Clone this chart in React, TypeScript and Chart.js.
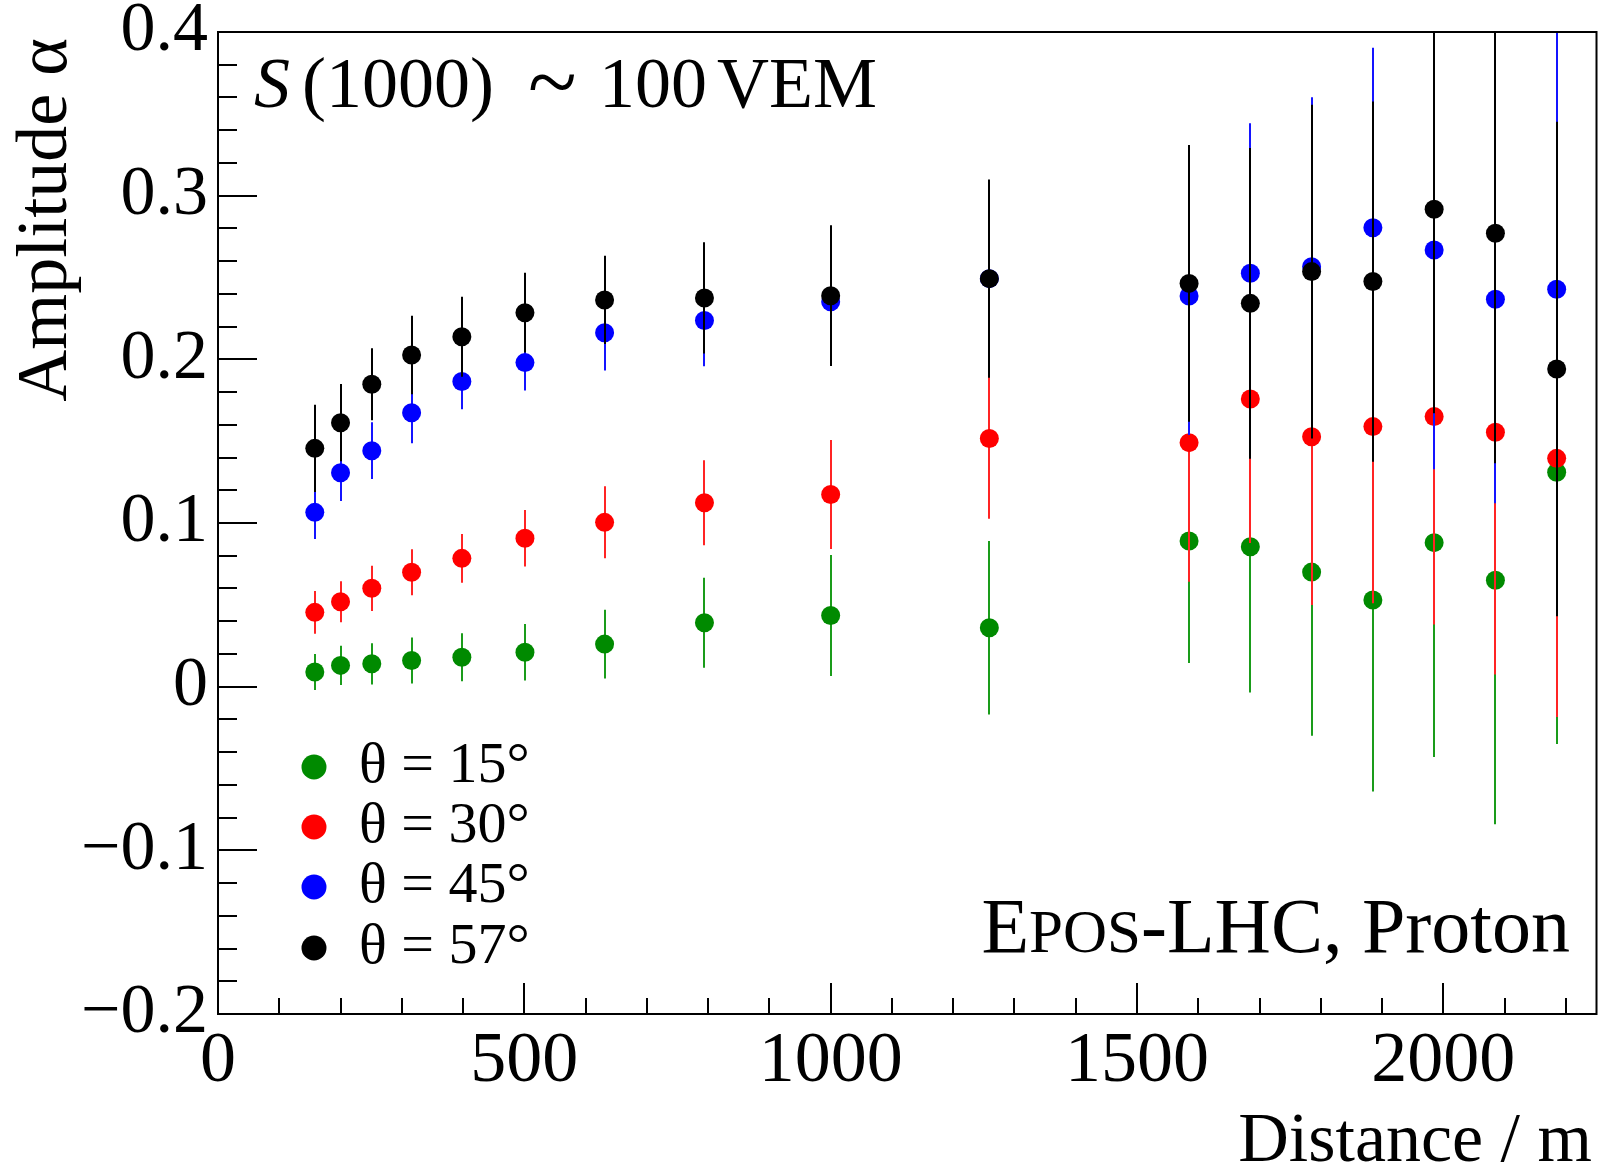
import React, { useEffect, useRef } from "react";
import { Chart, registerables } from "chart.js";

Chart.register(...registerables);

// ---------------- data ----------------
const distances = [158, 200, 251, 316, 398, 501, 631, 794, 1000, 1259, 1585, 1685, 1785, 1885, 1985, 2085, 2185];

const alpha15 = [0.009, 0.013, 0.014, 0.016, 0.018, 0.021, 0.026, 0.039, 0.0435, 0.036, 0.089, 0.0855, 0.07, 0.053, 0.088, 0.065, 0.131];
const alpha15Err = [0.011, 0.012, 0.0126, 0.014, 0.0147, 0.0173, 0.021, 0.0275, 0.037, 0.053, 0.0745, 0.089, 0.1, 0.117, 0.131, 0.149, 0.166];

const alpha30 = [0.0454, 0.0519, 0.0601, 0.0699, 0.0784, 0.0907, 0.1004, 0.1124, 0.1174, 0.1516, 0.1491, 0.1758, 0.1527, 0.1589, 0.165, 0.1554, 0.1395];
const alpha30Err = [0.013, 0.0125, 0.0138, 0.014, 0.0149, 0.0173, 0.022, 0.026, 0.0333, 0.049, 0.085, 0.088, 0.1028, 0.108, 0.127, 0.148, 0.158];

const alpha45 = [0.1065, 0.1307, 0.1442, 0.1674, 0.1865, 0.198, 0.2162, 0.2237, 0.2352, 0.2493, 0.2387, 0.2526, 0.2566, 0.2804, 0.2668, 0.2367, 0.2428];
const alpha45Err = [0.0163, 0.0173, 0.0173, 0.0187, 0.017, 0.017, 0.023, 0.028, 0.035, 0.05, 0.085, 0.0916, 0.1035, 0.11, 0.134, 0.1247, 0.17];

const alpha57 = [0.1456, 0.1613, 0.1848, 0.2027, 0.2138, 0.2285, 0.2363, 0.2375, 0.2389, 0.2493, 0.2464, 0.2342, 0.2536, 0.2475, 0.2917, 0.277, 0.1941];
const alpha57Err = [0.0266, 0.0236, 0.022, 0.024, 0.0245, 0.0244, 0.027, 0.034, 0.043, 0.0606, 0.0846, 0.095, 0.102, 0.11, 0.1247, 0.1405, 0.151];

const seriesLabels = ["θ = 15°", "θ = 30°", "θ = 45°", "θ = 57°"];
const xTickValues = [0, 500, 1000, 1500, 2000];
const yTickValues = [-0.2, -0.1, 0, 0.1, 0.2, 0.3, 0.4];

const xAxisTitle = "Distance / m";
const yAxisTitle = "Amplitude α";

// ---------------- style ----------------
const FONT = "'Liberation Serif', 'Times New Roman', serif";
const markerColors = ["#008a00", "#ff0000", "#0000ff", "#000000"];
const barColors = ["#1a9c1a", "#ff2424", "#1414ff", "#000000"];
const valueSets = [alpha15, alpha30, alpha45, alpha57];
const errorSets = [alpha15Err, alpha30Err, alpha45Err, alpha57Err];

function fmtY(v: number): string {
  const r = Math.round(v * 10) / 10;
  if (Math.abs(r) < 1e-9) return "0";
  return (r < 0 ? "\u2212" : "") + Math.abs(r).toFixed(1);
}

const errorBarPlugin = {
  id: "errorBars",
  beforeDatasetDraw(chart: any, args: any) {
    const idx = args.index;
    const vals = valueSets[idx];
    const errs = errorSets[idx];
    const { ctx, chartArea } = chart;
    const xs = chart.scales.x;
    const ys = chart.scales.y;
    ctx.save();
    ctx.beginPath();
    ctx.rect(chartArea.left, chartArea.top, chartArea.right - chartArea.left, chartArea.bottom - chartArea.top);
    ctx.clip();
    ctx.strokeStyle = barColors[idx];
    ctx.lineWidth = 2;
    ctx.beginPath();
    distances.forEach((d, i) => {
      const px = Math.round(xs.getPixelForValue(d));
      ctx.moveTo(px, ys.getPixelForValue(vals[i] + errs[i]));
      ctx.lineTo(px, ys.getPixelForValue(vals[i] - errs[i]));
    });
    ctx.stroke();
    ctx.restore();
  },
};

const framePlugin = {
  id: "rootFrame",
  afterDatasetsDraw(chart: any) {
    const { ctx, chartArea } = chart;
    const xs = chart.scales.x;
    const ys = chart.scales.y;
    const { left, right, top, bottom } = chartArea;
    ctx.save();
    ctx.strokeStyle = "#000";
    ctx.lineWidth = 2;
    ctx.strokeRect(left, top, right - left, bottom - top);
    ctx.beginPath();
    for (let i = 0; i <= 30; i++) {
      const v = -0.2 + i * 0.02;
      const py = Math.round(ys.getPixelForValue(v));
      const len = i % 5 === 0 ? 39 : 19;
      ctx.moveTo(left, py);
      ctx.lineTo(left + len, py);
    }
    for (let v = 0; v <= 2250; v += 100) {
      const px = Math.round(xs.getPixelForValue(v));
      const len = v % 500 === 0 ? 31 : 16;
      ctx.moveTo(px, bottom);
      ctx.lineTo(px, bottom - len);
    }
    ctx.stroke();
    ctx.restore();
  },
};

const annotationPlugin = {
  id: "annotations",
  afterDraw(chart: any) {
    const { ctx } = chart;
    ctx.save();
    ctx.fillStyle = "#000";
    ctx.textBaseline = "alphabetic";

    ctx.font = `70px ${FONT}`;
    ctx.textAlign = "right";
    ctx.fillText(xAxisTitle, 1592, 1161);

    ctx.save();
    ctx.translate(66, 38);
    ctx.rotate(-Math.PI / 2);
    ctx.textAlign = "right";
    ctx.font = `72px ${FONT}`;
    ctx.fillText(yAxisTitle, 0, 0);
    ctx.restore();

    ctx.textAlign = "left";
    ctx.font = `italic 72px ${FONT}`;
    ctx.fillText("S", 254, 107);
    ctx.font = `72px ${FONT}`;
    ctx.fillText("(1000)", 302, 107);
    ctx.font = `90px ${FONT}`;
    ctx.fillText("~", 528, 112);
    ctx.font = `72px ${FONT}`;
    ctx.fillText("100", 599, 107);
    ctx.fillText("VEM", 717, 107);

    const big = `78px ${FONT}`;
    const small = `61px ${FONT}`;
    const parts: [string, string][] = [["E", big], ["POS", small], ["-LHC, Proton", big]];
    const widths = parts.map(([t, f]) => { ctx.font = f; return ctx.measureText(t).width; });
    let xPos = 1570 - widths.reduce((a, b) => a + b, 0);
    parts.forEach(([t, f], i) => {
      ctx.font = f;
      ctx.fillText(t, xPos, 952);
      xPos += widths[i];
    });

    const legendY = [767, 827, 887, 948];
    ctx.font = `58px ${FONT}`;
    seriesLabels.forEach((lab, i) => {
      ctx.fillStyle = markerColors[i];
      ctx.beginPath();
      ctx.arc(314, legendY[i], 12.5, 0, Math.PI * 2);
      ctx.fill();
      ctx.fillStyle = "#000";
      ctx.fillText(lab, 359, legendY[i] + 15);
    });
    ctx.restore();
  },
};

export default function App() {
  const canvasRef = useRef<HTMLCanvasElement | null>(null);

  useEffect(() => {
    const canvas = canvasRef.current;
    if (!canvas) return;
    const datasets = valueSets.map((vals, i) => ({
      label: seriesLabels[i],
      data: distances.map((d, j) => ({ x: d, y: vals[j] })),
      showLine: false,
      pointRadius: 9.5,
      pointHoverRadius: 9.5,
      pointBorderWidth: 0,
      pointBackgroundColor: markerColors[i],
      pointBorderColor: markerColors[i],
      order: 4 - i,
    }));

    const chart = new Chart(canvas, {
      type: "scatter",
      data: { datasets },
      options: {
        animation: false,
        responsive: false,
        devicePixelRatio: 1,
        events: [],
        layout: { padding: { left: 0, top: 32, right: 8, bottom: 0 } },
        plugins: { legend: { display: false }, tooltip: { enabled: false } },
        scales: {
          x: {
            type: "linear",
            min: 0,
            max: 2250,
            grid: { display: false, drawTicks: false },
            border: { display: false },
            ticks: {
              autoSkip: false,
              maxRotation: 0,
              padding: 12,
              color: "#000",
              font: { family: FONT, size: 72, lineHeight: 1.0 },
              callback: (v: any) => String(v),
            },
            afterBuildTicks: (s: any) => {
              s.ticks = xTickValues.map((v) => ({ value: v }));
            },
            afterFit: (s: any) => {
              s.height = 155;
              s.paddingLeft = 0;
              s.paddingRight = 0;
            },
          },
          y: {
            type: "linear",
            min: -0.2,
            max: 0.4,
            grid: { display: false, drawTicks: false },
            border: { display: false },
            ticks: {
              autoSkip: false,
              padding: 10,
              color: "#000",
              font: { family: FONT, size: 70, lineHeight: 1.0 },
              callback: (v: any) => fmtY(Number(v)),
            },
            afterBuildTicks: (s: any) => {
              s.ticks = yTickValues.map((v) => ({ value: v }));
            },
            afterFit: (s: any) => {
              s.width = 218;
              s.paddingTop = 0;
              s.paddingBottom = 0;
            },
          },
        },
      },
      plugins: [errorBarPlugin, framePlugin, annotationPlugin],
    } as any);

    return () => chart.destroy();
  }, []);

  return (
    <div style={{ position: "absolute", left: 0, top: 0, width: 1606, height: 1169, background: "#fff" }}>
      <canvas ref={canvasRef} width={1606} height={1169} style={{ width: 1606, height: 1169, display: "block" }} />
    </div>
  );
}
